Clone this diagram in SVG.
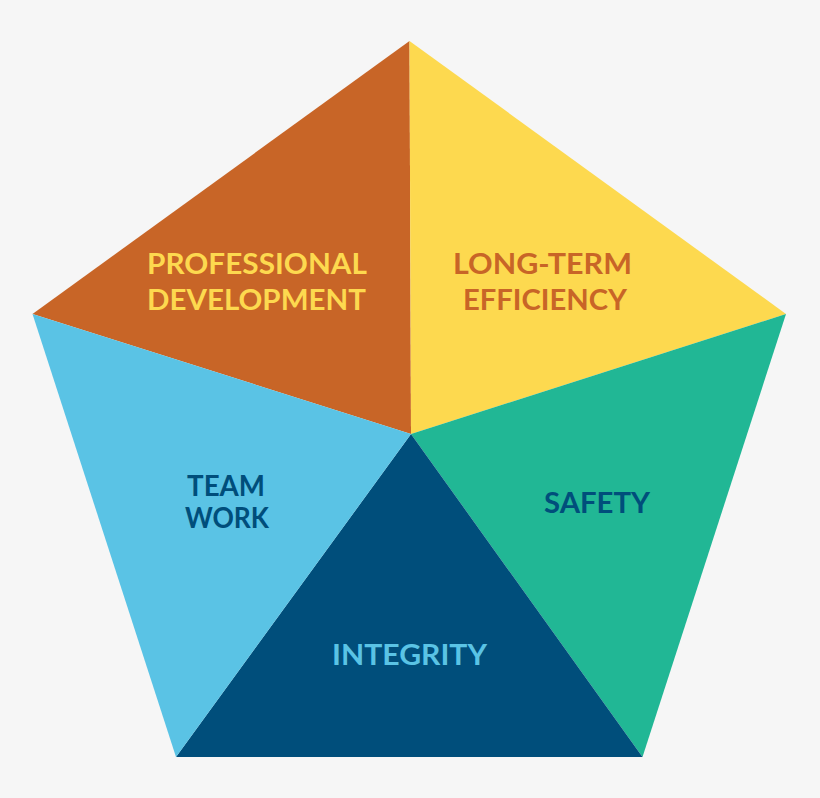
<svg xmlns="http://www.w3.org/2000/svg" width="820" height="798" viewBox="0 0 820 798">
<style>
.lbl{font-family:Lato,"Liberation Sans",sans-serif;font-weight:bold;font-size:28px;text-anchor:middle}
.orange{fill:#C86527}
.yellow{fill:#FDD94F}
.green{fill:#21B795}
.lblue{fill:#5AC3E5}
.dblue{fill:#004E7B}
</style>
<rect width="820" height="798" fill="#F6F6F6"/>
<g id="professional-development">
<polygon class="orange" points="409.5,41 411,434 32.5,314"/>
<text class="lbl yellow" x="257" y="274" textLength="220" lengthAdjust="spacingAndGlyphs">PROFESSIONAL</text>
<text class="lbl yellow" x="256.5" y="310" textLength="219" lengthAdjust="spacingAndGlyphs">DEVELOPMENT</text>
</g>
<g id="long-term-efficiency">
<polygon class="yellow" points="409.5,41 786,314 411,434"/>
<text class="lbl orange" x="542.5" y="274" textLength="179" lengthAdjust="spacingAndGlyphs">LONG-TERM</text>
<text class="lbl orange" x="545" y="310" textLength="164" lengthAdjust="spacingAndGlyphs">EFFICIENCY</text>
</g>
<g id="safety">
<polygon class="green" points="786,314 642.5,757 411,434"/>
<text class="lbl dblue" x="597" y="513" textLength="106" lengthAdjust="spacingAndGlyphs">SAFETY</text>
</g>
<g id="integrity">
<polygon class="dblue" points="411,434 642.5,757 176,757"/>
<text class="lbl lblue" x="409.5" y="665" textLength="155" lengthAdjust="spacingAndGlyphs">INTEGRITY</text>
</g>
<g id="team-work">
<polygon class="lblue" points="32.5,314 411,434 176,757"/>
<text class="lbl dblue" x="226" y="496" textLength="78" lengthAdjust="spacingAndGlyphs">TEAM</text>
<text class="lbl dblue" x="227" y="528" textLength="84" lengthAdjust="spacingAndGlyphs">WORK</text>
</g>
<g id="connectors"></g>
</svg>
